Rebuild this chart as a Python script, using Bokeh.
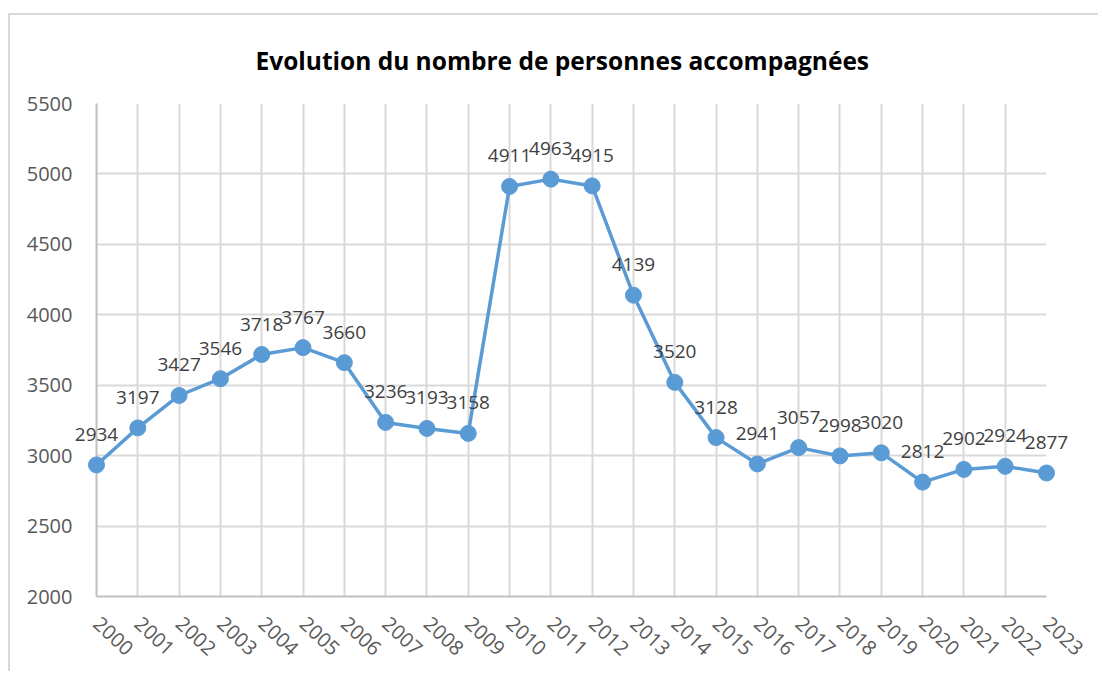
from bokeh.plotting import figure
from bokeh.models import Range1d, FixedTicker, ColumnDataSource, Title
from bokeh.embed import file_html
from bokeh.resources import INLINE
from bokeh.core.properties import value

years = [2000, 2001, 2002, 2003, 2004, 2005, 2006, 2007, 2008, 2009, 2010, 2011,
         2012, 2013, 2014, 2015, 2016, 2017, 2018, 2019, 2020, 2021, 2022, 2023]
persons = [2934, 3197, 3427, 3546, 3718, 3767, 3660, 3236, 3193, 3158, 4911, 4963,
           4915, 4139, 3520, 3128, 2941, 3057, 2998, 3020, 2812, 2902, 2924, 2877]
y_ticks = [2000, 2500, 3000, 3500, 4000, 4500, 5000, 5500]
title_text = "Evolution du nombre de personnes accompagnées"

FONT = "Open Sans"
LINE_COLOR = "#5B9BD5"
GRID = "#d9d9d9"

src = ColumnDataSource(dict(x=years, y=persons, label=[str(v) for v in persons]))

p = figure(width=1090, height=658, output_backend="svg", toolbar_location=None,
           x_range=Range1d(years[0], years[-1]), y_range=Range1d(y_ticks[0], y_ticks[-1]),
           min_border_left=86, min_border_right=54, min_border_top=86, min_border_bottom=77,
           styles={"margin-top": "13px", "margin-left": "8px",
                   "border-top": f"2px solid {GRID}", "border-left": f"2px solid {GRID}"})
p.outline_line_color = None
p.background_fill_color = "white"
p.border_fill_color = "white"

t = Title(text=title_text, align="left", text_font=FONT, text_font_size="24.5px",
          text_font_style="bold", text_color="#000000", offset=159, standoff=53)
p.add_layout(t, "above")

p.xaxis.ticker = FixedTicker(ticks=years)
p.yaxis.ticker = FixedTicker(ticks=y_ticks)
p.xgrid.ticker = FixedTicker(ticks=years)
p.ygrid.ticker = FixedTicker(ticks=y_ticks)
for g in (p.xgrid, p.ygrid):
    g.grid_line_color = GRID
    g.grid_line_width = 2

for ax in (p.xaxis, p.yaxis):
    ax.axis_line_color = "#bfbfbf"
    ax.axis_line_width = 2
    ax.major_tick_line_color = None
    ax.minor_tick_line_color = None
    ax.major_label_text_font = FONT
    ax.major_label_text_font_size = "20px"
    ax.major_label_text_color = "#595959"

p.xaxis.major_label_orientation = -0.75
p.xaxis.major_label_standoff = 18
p.yaxis.major_label_standoff = 18

r1 = p.line("x", "y", source=src, line_color=LINE_COLOR, line_width=3.5)
r2 = p.scatter("x", "y", source=src, size=16, fill_color=LINE_COLOR, line_color=LINE_COLOR)
r3 = p.text("x", "y", text="label", source=src, text_align="center", text_baseline="bottom",
            y_offset=-24, text_font=value(FONT), text_font_size="19px", text_color="#404040")
for r in (r1, r2, r3):
    r.level = "overlay"

open("out.html", "w").write(file_html(p, INLINE))
